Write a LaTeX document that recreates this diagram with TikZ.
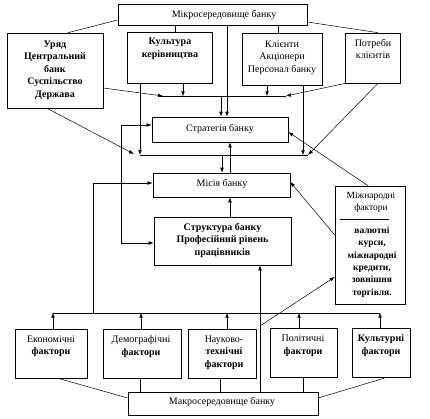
\documentclass[tikz,border=0pt]{standalone}
\usepackage{fontspec}
\setmainfont{Liberation Serif}
\usetikzlibrary{arrows.meta}
\begin{document}
\begin{tikzpicture}[x=1pt,y=-1pt,
  box/.style={draw, line width=0.6pt, inner sep=0pt},
  txt/.style={align=center, font=\fontsize{10}{12.5}\selectfont, inner sep=0pt},
  stxt/.style={align=center, font=\fontsize{9.5}{12.4}\selectfont, inner sep=0pt},
  ln/.style={line width=0.5pt},
  arr/.style={line width=0.5pt, -{Latex[length=5pt,width=3.6pt]}},
  darr/.style={line width=0.5pt, {Latex[length=5pt,width=3.6pt]}-{Latex[length=5pt,width=3.6pt]}}]
\useasboundingbox[fill=white] (0,0) rectangle (430,419);

% boxes
\node[box, minimum width=189pt, minimum height=21pt] (micro) at (212.5,14.5) {};
\node[box, minimum width=96pt, minimum height=75pt] (uryad) at (55,70.5) {};
\node[box, minimum width=85pt, minimum height=51pt] (kult) at (169.5,57.5) {};
\node[box, minimum width=80pt, minimum height=52pt] (klient) at (282,59) {};
\node[box, minimum width=55pt, minimum height=50pt] (potreby) at (372.5,58) {};
\node[box, minimum width=136pt, minimum height=25pt] (strat) at (220,129.5) {};
\node[box, minimum width=137pt, minimum height=24pt] (misia) at (221.5,185) {};
\node[box, minimum width=137pt, minimum height=48pt] (struct) at (222.5,241) {};
\node[box, minimum width=70pt, minimum height=118pt] (mizh) at (370,245) {};
\node[box, minimum width=72pt, minimum height=49pt] (ekon) at (51,353.5) {};
\node[box, minimum width=78pt, minimum height=49pt] (demo) at (142,353.5) {};
\node[box, minimum width=68pt, minimum height=49pt] (nauk) at (222,353.5) {};
\node[box, minimum width=67pt, minimum height=49pt] (polit) at (303.5,352.5) {};
\node[box, minimum width=58pt, minimum height=49pt] (kultf) at (381,352.5) {};
\node[box, minimum width=190pt, minimum height=23pt] (macro) at (223,403.5) {};

% texts
\node[txt] (tmicro) at (224,15) {Мікросередовище банку};
\node[txt, font=\fontsize{10}{12.5}\selectfont\bfseries] (turyad) at (55,70) {Уряд\\Центральний\\банк\\Суспільство\\Держава};
\node[txt, font=\fontsize{10}{12.5}\selectfont\bfseries] (tkult) at (170,49) {Культура\\керівництва};
\node[txt] (tklient) at (282,57.5) {Клієнти\\Акціонери\\Персонал банку};
\node[txt] (tpotreby) at (373,49) {Потреби\\клієнтів};
\node[txt] (tstrat) at (220,129) {Стратегія банку};
\node[txt] (tmisia) at (222,184) {Місія банку};
\node[txt, font=\fontsize{10}{12.5}\selectfont\bfseries] (tstruct) at (222.5,240) {Структура банку\\Професійний рівень\\працівників};
\node[stxt] (tmizh) at (371,202.5) {Міжнародні\\фактори};
\node[stxt, font=\fontsize{9.5}{12.4}\selectfont\bfseries] (tmizhb) at (372,262) {валютні\\курси,\\міжнародні\\кредити,\\зовнішня\\торгівля.};
\node[txt] (tekon) at (51,346.5) {Економічні\\\textbf{фактори}};
\node[txt] (tdemo) at (141,346.5) {Демографічні\\\textbf{фактори}};
\node[txt] (tnauk) at (224,352.5) {Науково-\\\textbf{технічні}\\\textbf{фактори}};
\node[txt] (tpolit) at (303,346) {Політичні\\\textbf{фактори}};
\node[txt, font=\fontsize{10}{12.5}\selectfont\bfseries] (tkultf) at (381,345.5) {Культурні\\фактори};
\node[txt] (tmacro) at (222,402) {Макросередовище банку};

% separator in international box
\draw[ln] ([shift={(-30pt,26pt)}]mizh.center) -- ++(49,0);

% top connections
\draw[ln] ([yshift=-5.5pt]micro.west) -- ([xshift=13pt]uryad.north);
\draw[ln] ([yshift=-7.5pt]micro.east) -- ([xshift=5.5pt]potreby.north);
\draw[ln] ([xshift=-37.5pt]micro.south) -- ([xshift=5.5pt]kult.north);
\draw[ln] ([xshift=65.5pt]micro.south) -- ([xshift=-4pt]klient.north);
\draw[arr] ([xshift=14.5pt]micro.south) -- ([xshift=7pt]strat.north);

% collector line y=96
\coordinate (hA) at (160,96);
\coordinate (hB) at (286,96);
\coordinate (hS) at (221,96);
\draw[ln] (hA) -- (hB);
\draw[arr] ([yshift=-17.5pt]uryad.east) -- ([xshift=3pt]hA);
\draw[arr] ([xshift=13.5pt]kult.south) -- ++(0,13);
\draw[arr] ([xshift=-15pt]klient.south) -- ++(0,11);
\draw[arr] ([xshift=-27pt]potreby.south) -- (hB);
\draw[arr] (hS) -- (hS |- strat.north);

% collector line y=155
\coordinate (hC) at (140,155);
\coordinate (hD) at (308,155);
\coordinate (hM) at (222,155);
\coordinate (jL) at (134,154);
\draw[ln] (hC) -- (hD);
\draw[arr] ([xshift=-8pt]uryad.south) -- (jL);
\draw[arr] ([xshift=-29.5pt]kult.south) -- (hC);
\draw[arr] ([xshift=21pt]klient.south) -- ++(0,70);
\draw[arr] ([xshift=5.5pt]potreby.south) -- (hD);
\draw[arr] (hM) -- (hM |- misia.north);

% central column
\draw[arr] ([xshift=8.5pt]misia.north) -- ([xshift=10pt]strat.south);
\draw[arr] ([xshift=7.5pt]struct.north) -- ([xshift=8.5pt]misia.south);
\draw[darr] ([yshift=4.5pt]strat.west) -- ++(-30,0) |- ([yshift=-2pt]struct.west);

% international factors
\draw[arr] ([xshift=-2pt]mizh.north) -- ([yshift=-2.5pt]strat.east);
\draw[arr] ([yshift=10pt]mizh.west) -- ([yshift=3pt]misia.east);

% bottom collector line y=313
\coordinate (bL) at (53,313);
\coordinate (bR) at (380,313);
\coordinate (bM) at (93,313);
\coordinate (jN) at (260,326);
\draw[ln] (bL) -- (bR);
\draw[arr] ([xshift=2pt]ekon.north) -- ++(0,-16);
\draw[arr] ([xshift=-1pt]demo.north) -- ++(0,-16);
\draw[arr] ([xshift=5pt]nauk.north) -- ++(0,-16);
\draw[arr] ([xshift=-4.5pt]polit.north) -- ++(0,-15);
\draw[arr] ([xshift=-1pt]kultf.north) -- ++(0,-15);
\draw[arr] (bM) |- ([yshift=2pt]misia.west);
\draw[arr] ([xshift=37pt]macro.north) -- ([xshift=37.5pt]struct.south);
\draw[arr] (jN) -- ([yshift=-32pt]mizh.west);

% macro connections
\draw[ln] ([xshift=7pt]ekon.south) -- ([yshift=5.5pt]macro.west);
\draw[ln] ([xshift=-2pt]demo.south) -- ([xshift=-83pt]macro.north);
\draw[ln] ([xshift=-2pt]nauk.south) -- ([xshift=-3pt]macro.north);
\draw[ln] ([xshift=-0.5pt]polit.south) -- ([xshift=80pt]macro.north);
\draw[ln] ([xshift=6pt]kultf.south) -- ([yshift=5.5pt]macro.east);
\end{tikzpicture}
\end{document}
